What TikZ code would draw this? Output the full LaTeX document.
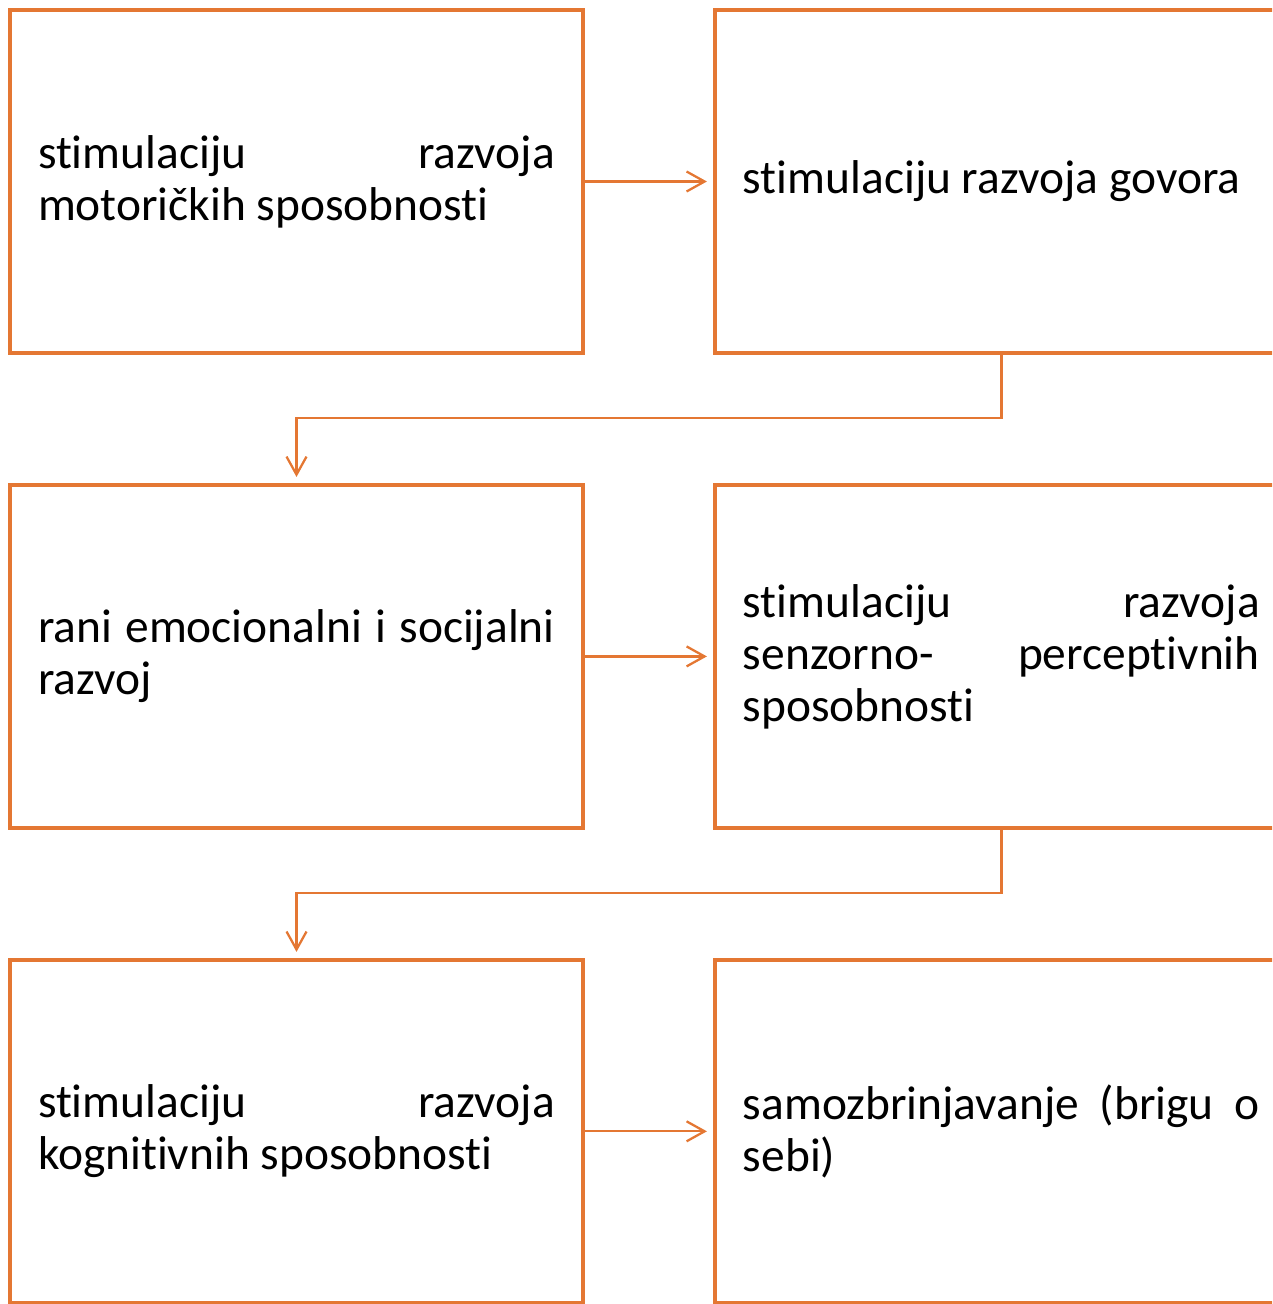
\documentclass[tikz,border=0pt]{standalone}
\usepackage{fontspec}
\setmainfont{Carlito}[Ligatures=NoCommon]
\usepackage{xcolor}
\usepackage{tikz}
\usetikzlibrary{positioning,arrows.meta}
\definecolor{accent}{HTML}{E47733}
\newcommand{\boxfont}{\fontsize{27}{29.6}\selectfont}
\newcommand{\boxpar}{\hyphenpenalty=10000\relax\exhyphenpenalty=10000\relax\tolerance=10000\relax}

\tikzset{
  box/.style={draw=accent, line width=2.2pt, rectangle, outer sep=0pt, inner sep=0pt,
    minimum width=11.46cm, minimum height=6.86cm, text width=10.34cm, align=justify,
    font=\boxfont, execute at begin node=\boxpar},
  link/.style={draw=accent, line width=1.3pt, -{Straight Barb[length=0.36cm,width=0.4cm]}, shorten >=0.16cm}
}

\begin{document}
\begin{tikzpicture}[x=0.02cm, y=-0.02cm, node distance=2.64cm]
    \useasboundingbox (0,0) rectangle (1272,1304);
    \clip (0,0) rectangle (1272,1304);

    % first row
    \node[box] (motor) at (296.5,181.5) {stimulaciju razvoja motoričkih sposobnosti};
    \node[box, right=of motor] (govor) {stimulaciju razvoja govora};
    \draw[link] (motor.east) -- (govor.west);

    % second row
    \node[box, below=of motor] (emoc) {rani emocionalni i socijalni razvoj};
    \node[box, right=of emoc] (senz) {stimulaciju razvoja\linebreak senzorno- perceptivnih sposobnosti};
    \draw[link] (govor.south) -- ++(0,65) -| (emoc.north);
    \draw[link] (emoc.east) -- (senz.west);

    % third row
    \node[box, below=of emoc] (kogn) {stimulaciju razvoja kognitivnih sposobnosti};
    \node[box, right=of kogn] (samo) {samozbrinjavanje (brigu o sebi)};
    \draw[link] (senz.south) -- ++(0,65) -| (kogn.north);
    \draw[link] (kogn.east) -- (samo.west);
\end{tikzpicture}
\end{document}
